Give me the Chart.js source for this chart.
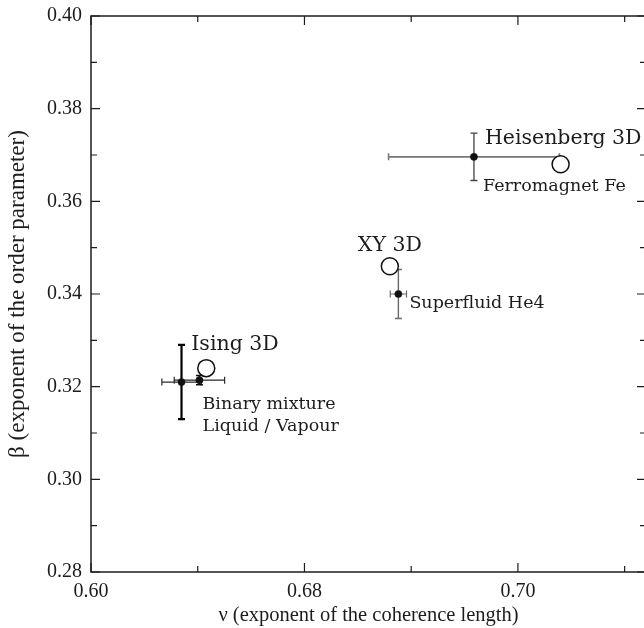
<!DOCTYPE html>
<html>
<head>
<meta charset="utf-8">
<script src="https://cdn.jsdelivr.net/npm/chart.js@4.4.0/dist/chart.umd.min.js"></script>
<style>
  html, body { margin: 0; padding: 0; background: #fff; overflow: hidden; width: 644px; height: 628px; }
  #wrap { position: relative; width: 652px; height: 628px; }
</style>
</head>
<body>
<div id="wrap"><canvas id="c" width="652" height="628"></canvas></div>
<script>
// Universality classes (theory): open circles
const theoryNames = ['Ising 3D', 'XY 3D', 'Heisenberg 3D'];
const theoryNu    = [0.627, 0.670, 0.710];
const theoryBeta  = [0.324, 0.346, 0.368];

// Measured exponents: filled dots with error bars
const expNames    = ['Binary mixture', 'Liquid / Vapour', 'Superfluid He4', 'Ferromagnet Fe'];
const expNu       = [0.6212, 0.6254, 0.6720, 0.6897];
const expBeta     = [0.3210, 0.3214, 0.3400, 0.3696];
const expNuErr    = [0.0046, 0.0059, 0.0019, 0.0200];
const expBetaErr  = [0.0080, 0.0010, 0.0053, 0.0051];

// Axis ticks
const xTicks      = [0.600, 0.625, 0.650, 0.675, 0.700, 0.725];
const xTickLabels = ['0.60', '', '0.68', '', '0.70', ''];
const yTicks      = [0.28, 0.29, 0.30, 0.31, 0.32, 0.33, 0.34, 0.35, 0.36, 0.37, 0.38, 0.39, 0.40];
const yTickLabels = ['0.28', '', '0.30', '', '0.32', '', '0.34', '', '0.36', '', '0.38', '', '0.40'];

// Error bar appearance per measured point: [horizontal colour, horizontal width, vertical colour, vertical width]
const errStyle = [
  ['#2a2a2a', 1.2, '#000000', 2.2],
  ['#2a2a2a', 1.2, '#111111', 1.5],
  ['#6a6a6a', 1.2, '#6a6a6a', 1.4],
  ['#777777', 1.6, '#444444', 1.3]
];

// Text labels: anchor point (dataset, index) plus pixel offset to the text's left baseline
const labelDefs = [
  { text: theoryNames[0], ds: 0, i: 0, dx: -15, dy: -18, big: true },
  { text: theoryNames[1], ds: 0, i: 1, dx: -32, dy: -15, big: true },
  { text: theoryNames[2], ds: 1, i: 3, dx: 11,  dy: -13, big: true },
  { text: expNames[0],    ds: 1, i: 0, dx: 21,  dy: 27,  big: false },
  { text: expNames[1],    ds: 1, i: 0, dx: 21,  dy: 49,  big: false },
  { text: expNames[2],    ds: 1, i: 2, dx: 11,  dy: 14,  big: false },
  { text: expNames[3],    ds: 1, i: 3, dx: 9,   dy: 34,  big: false }
];

const SERIF = "'Liberation Serif', 'Times New Roman', serif";
const LABEL_SERIF = "'DejaVu Serif', 'Liberation Serif', serif";
const INK = '#1c1c1c';

const frameAndTicks = {
  id: 'frameAndTicks',
  beforeDatasetsDraw(chart) {
    const ctx = chart.ctx;
    const x = chart.scales.x, y = chart.scales.y;
    const a = chart.chartArea;
    ctx.save();
    ctx.strokeStyle = INK;
    ctx.lineWidth = 1.5;
    ctx.strokeRect(a.left, a.top, a.right - a.left, a.bottom - a.top);
    ctx.lineWidth = 1.2;
    ctx.beginPath();
    xTicks.forEach((v, k) => {
      const px = x.getPixelForValue(v);
      const len = xTickLabels[k] ? 9 : 6;
      ctx.moveTo(px, a.bottom); ctx.lineTo(px, a.bottom - len);
      ctx.moveTo(px, a.top);    ctx.lineTo(px, a.top + len);
    });
    yTicks.forEach((v, k) => {
      const py = y.getPixelForValue(v);
      const len = yTickLabels[k] ? 9 : 6;
      ctx.moveTo(a.left, py);  ctx.lineTo(a.left + len, py);
      ctx.moveTo(a.right, py); ctx.lineTo(a.right - len, py);
    });
    ctx.stroke();

    // error bars
    const cap = 3.5;
    expNu.forEach((nu, k) => {
      const cx = x.getPixelForValue(nu), cy = y.getPixelForValue(expBeta[k]);
      const x0 = x.getPixelForValue(nu - expNuErr[k]), x1 = x.getPixelForValue(nu + expNuErr[k]);
      const y0 = y.getPixelForValue(expBeta[k] - expBetaErr[k]), y1 = y.getPixelForValue(expBeta[k] + expBetaErr[k]);
      const s = errStyle[k];
      ctx.strokeStyle = s[0]; ctx.lineWidth = s[1];
      ctx.beginPath();
      ctx.moveTo(x0, cy); ctx.lineTo(x1, cy);
      ctx.moveTo(x0, cy - cap); ctx.lineTo(x0, cy + cap);
      ctx.moveTo(x1, cy - cap); ctx.lineTo(x1, cy + cap);
      ctx.stroke();
      ctx.strokeStyle = s[2]; ctx.lineWidth = s[3];
      ctx.beginPath();
      ctx.moveTo(cx, y0); ctx.lineTo(cx, y1);
      ctx.moveTo(cx - cap, y0); ctx.lineTo(cx + cap, y0);
      ctx.moveTo(cx - cap, y1); ctx.lineTo(cx + cap, y1);
      ctx.stroke();
    });
    ctx.restore();
  },
  afterDatasetsDraw(chart) {
    const ctx = chart.ctx;
    ctx.save();
    ctx.fillStyle = INK;
    ctx.textAlign = 'left';
    ctx.textBaseline = 'alphabetic';
    labelDefs.forEach(l => {
      const el = chart.getDatasetMeta(l.ds).data[l.i];
      ctx.font = (l.big ? '20.5px ' : '17.5px ') + LABEL_SERIF;
      ctx.fillText(l.text, el.x + l.dx, el.y + l.dy);
    });
    ctx.restore();
  }
};

new Chart(document.getElementById('c'), {
  type: 'scatter',
  data: {
    datasets: [
      {
        label: 'theory',
        data: theoryNu.map((v, i) => ({ x: v, y: theoryBeta[i] })),
        pointRadius: 8.5,
        pointBackgroundColor: '#ffffff',
        pointBorderColor: '#111111',
        pointBorderWidth: 1.5
      },
      {
        label: 'experiment',
        data: expNu.map((v, i) => ({ x: v, y: expBeta[i] })),
        pointRadius: 3.6,
        pointBackgroundColor: '#111111',
        pointBorderColor: '#111111',
        pointBorderWidth: 0.5
      }
    ]
  },
  options: {
    responsive: false,
    animation: false,
    events: [],
    layout: { autoPadding: false, padding: { top: 16, right: 6, bottom: 0, left: 0 } },
    plugins: { legend: { display: false }, tooltip: { enabled: false } },
    scales: {
      x: {
        type: 'linear',
        min: 0.60,
        max: 0.73,
        afterFit(s) { s.height = 56; s.paddingLeft = 0; s.paddingRight = 0; },
        afterBuildTicks(s) { s.ticks = xTicks.map(v => ({ value: v })); },
        grid: { display: false, drawTicks: false },
        border: { display: false },
        ticks: {
          autoSkip: false, maxRotation: 0, padding: 8, color: INK,
          font: { family: SERIF, size: 20 },
          callback: (v, i) => xTickLabels[i]
        },
        title: {
          display: true,
          text: 'ν (exponent of the coherence length)',
          color: INK,
          font: { family: SERIF, size: 20.5 },
          padding: { top: 0, bottom: 0 }
        }
      },
      y: {
        type: 'linear',
        min: 0.28,
        max: 0.40,
        afterFit(s) { s.width = 91; s.paddingTop = 0; s.paddingBottom = 0; },
        afterBuildTicks(s) { s.ticks = yTicks.map(v => ({ value: v })); },
        grid: { display: false, drawTicks: false },
        border: { display: false },
        ticks: {
          autoSkip: false, padding: 9, color: INK,
          font: { family: SERIF, size: 20 },
          callback: (v, i) => yTickLabels[i]
        },
        title: {
          display: true,
          text: 'β (exponent of the order parameter)',
          color: INK,
          font: { family: SERIF, size: 23 },
          padding: { top: 4, bottom: 0 }
        }
      }
    }
  },
  plugins: [frameAndTicks]
});
</script>
</body>
</html>
